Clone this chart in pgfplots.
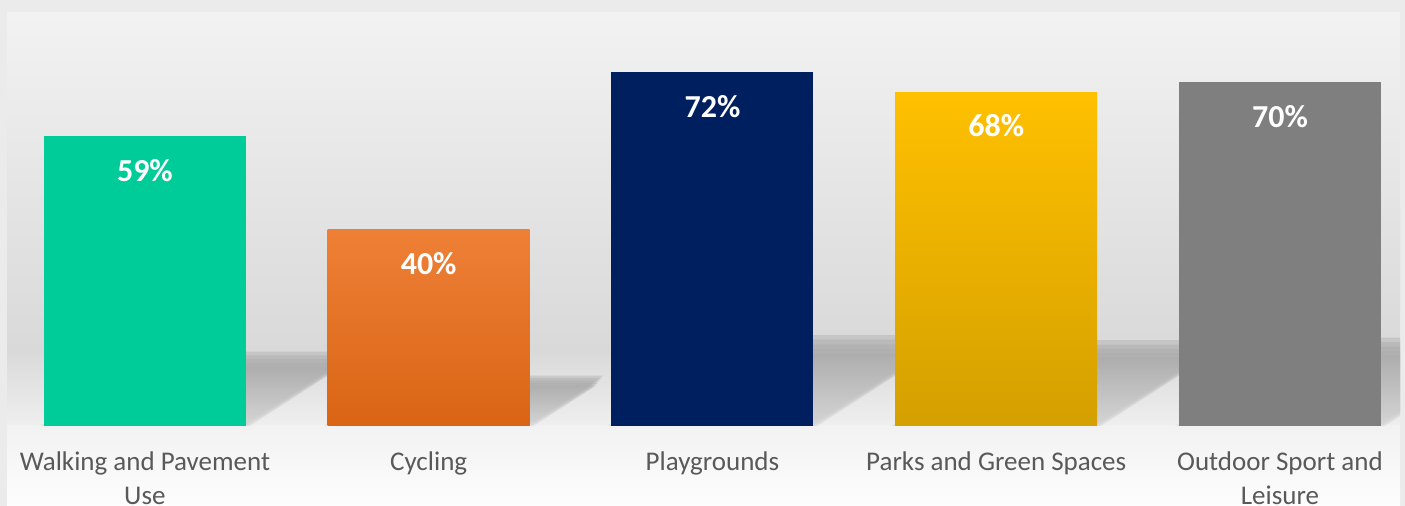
\documentclass[border=0pt]{standalone}
\usepackage{pgfplots}
\pgfplotsset{compat=1.18}
\usepackage{fontspec}
\setmainfont{Carlito}
\definecolor{outerbg}{HTML}{EBEBEB}
\definecolor{walltop}{HTML}{F2F2F2}
\definecolor{wallbot}{HTML}{D9D9D9}
\definecolor{floorbot}{HTML}{EFEFEF}
\definecolor{lowtop}{HTML}{F2F2F2}
\definecolor{lowbot}{HTML}{FDFDFD}
\definecolor{shadowtop}{HTML}{A2A2A2}
\definecolor{shadowbot}{HTML}{D4D4D4}
\definecolor{cgreen}{HTML}{00CC99}
\definecolor{corangetop}{HTML}{EE8036}
\definecolor{corangebot}{HTML}{DA6415}
\definecolor{cnavy}{HTML}{001F5F}
\definecolor{cyellowtop}{HTML}{FFC000}
\definecolor{cyellowbot}{HTML}{D4A000}
\definecolor{cgray}{HTML}{7F7F7F}
\definecolor{labelgray}{HTML}{595959}
% one soft layer: #1 = bar position, #2 = value, #3 = depth factor, #4 = x offset
\newcommand{\shadowlayer}[4]{%
  \shade[top color=shadowtop, bottom color=shadowbot, fill opacity=0.36]
    (axis cs:{#1-0.356+#4},0) -- (axis cs:{#1+0.356+#4},0)
    -- (axis cs:{#1+0.356+#4+0.0267*#3*#2},{#3*#2})
    -- (axis cs:{#1-0.356+#4+0.0267*#3*#2},{#3*#2}) -- cycle;}
\newcommand{\barshadow}[2]{%
  \shadowlayer{#1}{#2}{0.205}{0.014}
  \shadowlayer{#1}{#2}{0.218}{0.007}
  \shadowlayer{#1}{#2}{0.231}{0.0}
  \shadowlayer{#1}{#2}{0.244}{-0.007}
  \shadowlayer{#1}{#2}{0.257}{-0.014}}
\begin{document}
\begin{tikzpicture}
\useasboundingbox (-3.5pt,-40pt) rectangle (699pt,213pt);
\clip (-3.5pt,-40pt) rectangle (699pt,213pt);
\fill[outerbg] (-3.5pt,-40pt) rectangle (699pt,213pt);
\shade[top color=walltop, bottom color=wallbot] (0pt,38pt) rectangle (696.5pt,206.5pt);
\shade[top color=wallbot, bottom color=floorbot] (0pt,0pt) rectangle (696.5pt,38pt);
\shade[top color=lowtop, bottom color=lowbot] (0pt,-40pt) rectangle (696.5pt,0pt);
\begin{axis}[
  at={(0pt,0pt)}, anchor=south west,
  scale only axis, width=696.5pt, height=206.5pt,
  xmin=-0.486, xmax=4.423, ymin=0, ymax=84.1,
  axis line style={draw=none},
  ytick=\empty,
  xtick={0,1,2,3,4},
  xticklabels={{Walking and Pavement\\Use},{Cycling},{Playgrounds},{Parks and Green Spaces},{Outdoor Sport and\\Leisure}},
  major tick length=0pt,
  xticklabel style={align=center, inner sep=0pt, yshift=-12.5pt, text=labelgray, font=\fontsize{13.5}{17}\selectfont},
  ybar, bar width=101pt, bar shift=0pt,
  /pgf/number format/assume math mode=true,
  nodes near coords={\pgfmathprintnumber{\pgfplotspointmeta}\%},
  every node near coord/.append style={font=\bfseries\fontsize{16}{19}\selectfont, text=white, anchor=center, yshift=-17pt},
]
\barshadow{0}{59}
\barshadow{1}{40}
\barshadow{2}{72}
\barshadow{3}{68}
\barshadow{4}{70}
\addplot[draw=none, fill=cgreen] coordinates {(0,59)};
\addplot[draw=none, top color=corangetop, bottom color=corangebot] coordinates {(1,40)};
\addplot[draw=none, fill=cnavy] coordinates {(2,72)};
\addplot[draw=none, top color=cyellowtop, bottom color=cyellowbot] coordinates {(3,68)};
\addplot[draw=none, fill=cgray] coordinates {(4,70)};
\end{axis}
\end{tikzpicture}
\end{document}
